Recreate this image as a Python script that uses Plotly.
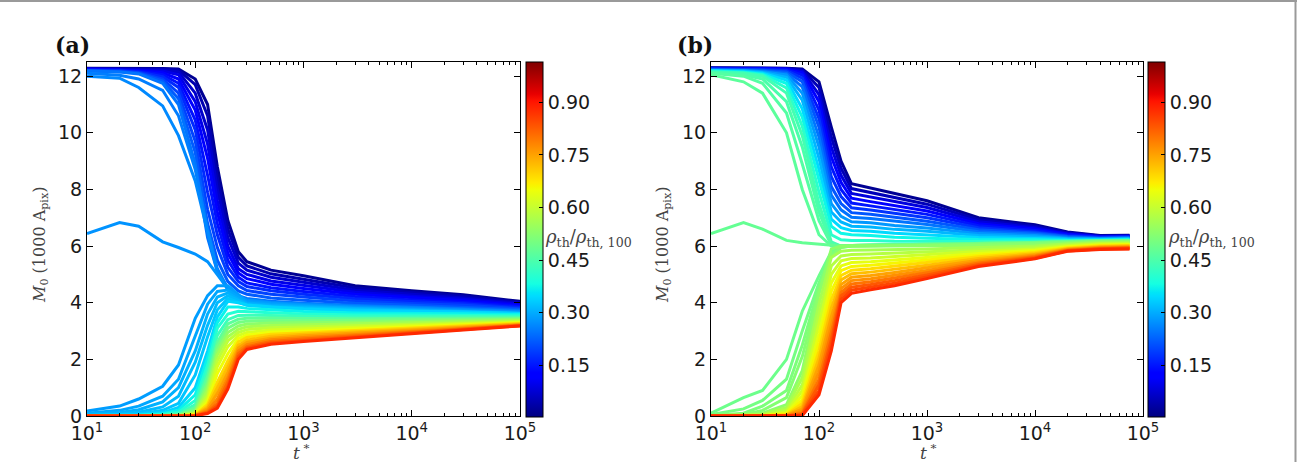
import numpy as np
import plotly.graph_objects as go

W, H = 1297, 462

# ---------------- data : panel (a) ----------------
T_A = [10, 20, 30, 50, 70, 100, 130, 160, 200, 250, 300, 500, 1000, 3000, 10000, 30000, 100000]

RHO_A_UPPER = [0.02, 0.045, 0.07, 0.095, 0.12, 0.145, 0.17, 0.195, 0.22, 0.245]
# one row per time in T_A, one value per line in RHO_A_UPPER
A_UPPER = [
    [12.28, 12.27, 12.26, 12.25, 12.24, 12.22, 12.21, 12.20, 12.19, 12.18],
    [12.28, 12.27, 12.25, 12.24, 12.22, 12.21, 12.19, 12.18, 12.16, 12.15],
    [12.28, 12.26, 12.24, 12.21, 12.19, 12.17, 12.15, 12.12, 12.10, 12.08],
    [12.27, 12.25, 12.22, 12.18, 12.12, 12.05, 11.98, 11.90, 11.83, 11.75],
    [12.25, 12.22, 12.15, 12.05, 11.90, 11.75, 11.60, 11.40, 11.20, 11.00],
    [11.90, 11.70, 11.40, 11.10, 10.80, 10.45, 10.10, 9.70, 9.30, 8.90],
    [11.00, 10.60, 10.10, 9.60, 9.10, 8.50, 7.90, 7.30, 6.80, 6.30],
    [8.80, 8.40, 8.00, 7.60, 7.20, 6.80, 6.40, 5.95, 5.50, 5.10],
    [6.90, 6.60, 6.30, 6.00, 5.75, 5.50, 5.25, 5.00, 4.75, 4.50],
    [5.80, 5.60, 5.40, 5.20, 5.05, 4.90, 4.75, 4.60, 4.42, 4.25],
    [5.45, 5.30, 5.15, 5.00, 4.85, 4.70, 4.57, 4.43, 4.30, 4.15],
    [5.15, 5.02, 4.90, 4.77, 4.65, 4.53, 4.42, 4.30, 4.17, 4.05],
    [4.95, 4.83, 4.72, 4.61, 4.50, 4.40, 4.30, 4.20, 4.09, 3.98],
    [4.60, 4.52, 4.44, 4.37, 4.30, 4.22, 4.14, 4.06, 3.98, 3.90],
    [4.42, 4.36, 4.30, 4.23, 4.17, 4.10, 4.04, 3.97, 3.91, 3.85],
    [4.28, 4.23, 4.17, 4.12, 4.07, 4.01, 3.96, 3.91, 3.85, 3.80],
    [4.05, 4.01, 3.98, 3.94, 3.90, 3.87, 3.83, 3.79, 3.76, 3.72],
]

# isolated (early-departing) curves of panel (a)
RHO_A_SINGLE = [0.255, 0.265, 0.275, 0.285, 0.295, 0.305, 0.315, 0.325]
A_SINGLE = [
    [12.10, 12.03, 11.90, 11.50, 10.60, 8.70, 6.60, 5.20, 4.50, 4.20, 4.10, 4.02, 3.96, 3.88, 3.83, 3.78, 3.70],
    [12.00, 11.93, 11.60, 10.95, 9.90, 8.30, 6.50, 5.10, 4.45, 4.18, 4.08, 4.00, 3.94, 3.86, 3.81, 3.76, 3.68],
    [6.44, 6.83, 6.70, 6.15, 5.95, 5.72, 5.45, 5.00, 4.50, 4.22, 4.10, 4.00, 3.93, 3.85, 3.80, 3.75, 3.68],
    [0.18, 0.35, 0.60, 1.05, 1.80, 3.45, 4.25, 4.60, 4.60, 4.30, 4.05, 3.97, 3.90, 3.82, 3.77, 3.72, 3.65],
    [0.10, 0.20, 0.35, 0.70, 1.30, 2.80, 3.95, 4.40, 4.45, 4.20, 4.00, 3.93, 3.87, 3.80, 3.75, 3.70, 3.64],
    [0.06, 0.12, 0.22, 0.50, 1.00, 2.30, 3.60, 4.20, 4.35, 4.12, 3.97, 3.90, 3.85, 3.78, 3.73, 3.69, 3.63],
    [0.03, 0.07, 0.13, 0.32, 0.70, 1.90, 3.20, 4.00, 4.25, 4.07, 3.94, 3.87, 3.83, 3.76, 3.72, 3.68, 3.62],
    [0.02, 0.04, 0.07, 0.20, 0.45, 1.45, 2.80, 3.75, 4.15, 4.02, 3.91, 3.84, 3.80, 3.74, 3.71, 3.66, 3.61],
]

RHO_A_LOWER = [0.34, 0.37, 0.40, 0.43, 0.47, 0.50, 0.53, 0.56, 0.59, 0.62, 0.65, 0.69, 0.72, 0.75, 0.78, 0.81, 0.84, 0.88]
A_LOWER = [
    [0.02, 0.01, 0, 0, 0, 0, 0, 0, 0, 0, 0, 0, 0, 0, 0, 0, 0, 0],
    [0.03, 0.02, 0.01, 0, 0, 0, 0, 0, 0, 0, 0, 0, 0, 0, 0, 0, 0, 0],
    [0.05, 0.03, 0.02, 0.01, 0, 0, 0, 0, 0, 0, 0, 0, 0, 0, 0, 0, 0, 0],
    [0.12, 0.08, 0.05, 0.03, 0.02, 0.01, 0, 0, 0, 0, 0, 0, 0, 0, 0, 0, 0, 0],
    [0.30, 0.20, 0.13, 0.08, 0.05, 0.03, 0.02, 0.01, 0, 0, 0, 0, 0, 0, 0, 0, 0, 0],
    [1.00, 0.75, 0.55, 0.40, 0.30, 0.22, 0.16, 0.12, 0.09, 0.07, 0.05, 0.04, 0.03, 0.02, 0.02, 0.01, 0.01, 0.01],
    [2.30, 2.05, 1.80, 1.60, 1.40, 1.20, 1.05, 0.90, 0.75, 0.62, 0.50, 0.40, 0.32, 0.25, 0.19, 0.14, 0.11, 0.09],
    [3.50, 3.30, 3.10, 2.85, 2.60, 2.45, 2.30, 2.15, 1.95, 1.75, 1.50, 1.20, 1.00, 0.80, 0.60, 0.45, 0.35, 0.28],
    [4.05, 3.85, 3.60, 3.40, 3.25, 3.10, 2.95, 2.80, 2.65, 2.45, 2.20, 1.95, 1.75, 1.55, 1.35, 1.20, 1.05, 0.95],
    [4.00, 3.85, 3.70, 3.55, 3.42, 3.30, 3.18, 3.06, 2.95, 2.84, 2.73, 2.62, 2.50, 2.40, 2.30, 2.20, 2.10, 2.00],
    [3.92, 3.80, 3.68, 3.56, 3.45, 3.35, 3.25, 3.15, 3.05, 2.95, 2.86, 2.77, 2.68, 2.60, 2.52, 2.45, 2.40, 2.35],
    [3.85, 3.75, 3.65, 3.55, 3.46, 3.37, 3.28, 3.20, 3.12, 3.04, 2.96, 2.89, 2.82, 2.75, 2.69, 2.63, 2.58, 2.53],
    [3.78, 3.69, 3.60, 3.52, 3.44, 3.36, 3.29, 3.22, 3.15, 3.08, 3.01, 2.95, 2.89, 2.83, 2.77, 2.72, 2.67, 2.63],
    [3.72, 3.64, 3.57, 3.50, 3.43, 3.37, 3.31, 3.25, 3.19, 3.13, 3.07, 3.02, 2.97, 2.92, 2.88, 2.84, 2.80, 2.77],
    [3.70, 3.63, 3.57, 3.51, 3.45, 3.40, 3.35, 3.30, 3.25, 3.20, 3.15, 3.11, 3.07, 3.03, 3.00, 2.97, 2.94, 2.92],
    [3.67, 3.61, 3.56, 3.51, 3.46, 3.42, 3.38, 3.34, 3.30, 3.26, 3.22, 3.19, 3.16, 3.13, 3.10, 3.08, 3.06, 3.04],
    [3.62, 3.58, 3.54, 3.50, 3.46, 3.43, 3.40, 3.37, 3.34, 3.31, 3.29, 3.27, 3.25, 3.23, 3.21, 3.20, 3.19, 3.18],
]

# ---------------- data : panel (b) ----------------
T_B = [10, 20, 30, 50, 70, 100, 130, 160, 200, 300, 500, 1000, 3000, 10000, 20000, 40000, 75000]

RHO_B_UPPER = [0.02, 0.052, 0.085, 0.117, 0.15, 0.18, 0.215, 0.245, 0.28, 0.31, 0.345, 0.375, 0.41, 0.44]
B_UPPER = [
    [12.30, 12.29, 12.28, 12.27, 12.26, 12.25, 12.24, 12.22, 12.21, 12.20, 12.19, 12.18, 12.16, 12.15],
    [12.30, 12.29, 12.28, 12.27, 12.26, 12.24, 12.23, 12.21, 12.20, 12.18, 12.16, 12.14, 12.12, 12.10],
    [12.30, 12.29, 12.28, 12.27, 12.25, 12.23, 12.21, 12.18, 12.16, 12.13, 12.10, 12.07, 12.04, 12.00],
    [12.28, 12.27, 12.26, 12.24, 12.22, 12.19, 12.15, 12.10, 12.04, 11.96, 11.86, 11.74, 11.58, 11.40],
    [12.25, 12.22, 12.18, 12.12, 12.04, 11.93, 11.80, 11.62, 11.40, 11.15, 10.85, 10.55, 10.23, 9.90],
    [11.80, 11.60, 11.35, 11.10, 10.80, 10.50, 10.20, 9.85, 9.50, 9.10, 8.70, 8.30, 7.90, 7.50],
    [10.20, 9.85, 9.50, 9.15, 8.80, 8.45, 8.10, 7.80, 7.50, 7.20, 6.95, 6.70, 6.40, 6.15],
    [9.00, 8.75, 8.50, 8.25, 8.00, 7.75, 7.50, 7.28, 7.05, 6.85, 6.65, 6.45, 6.22, 6.00],
    [8.20, 8.03, 7.86, 7.69, 7.52, 7.35, 7.18, 7.02, 6.86, 6.70, 6.55, 6.40, 6.20, 6.02],
    [8.05, 7.89, 7.73, 7.57, 7.42, 7.27, 7.12, 6.97, 6.82, 6.67, 6.52, 6.37, 6.20, 6.02],
    [7.85, 7.71, 7.57, 7.43, 7.29, 7.15, 7.01, 6.87, 6.73, 6.59, 6.45, 6.31, 6.17, 6.03],
    [7.60, 7.48, 7.36, 7.24, 7.12, 7.00, 6.88, 6.76, 6.64, 6.52, 6.40, 6.28, 6.16, 6.05],
    [7.00, 6.93, 6.86, 6.79, 6.72, 6.65, 6.58, 6.51, 6.44, 6.37, 6.30, 6.23, 6.16, 6.08],
    [6.75, 6.70, 6.65, 6.60, 6.55, 6.50, 6.46, 6.42, 6.37, 6.32, 6.27, 6.22, 6.17, 6.12],
    [6.50, 6.47, 6.44, 6.42, 6.39, 6.36, 6.34, 6.31, 6.28, 6.26, 6.23, 6.20, 6.18, 6.15],
    [6.37, 6.36, 6.34, 6.33, 6.31, 6.30, 6.28, 6.27, 6.25, 6.24, 6.22, 6.21, 6.19, 6.18],
    [6.38, 6.37, 6.36, 6.34, 6.33, 6.32, 6.30, 6.29, 6.27, 6.26, 6.24, 6.23, 6.21, 6.20],
]

RHO_B_SINGLE = [0.45, 0.46, 0.47, 0.48, 0.49, 0.50, 0.51, 0.52]
B_SINGLE = [
    [12.12, 12.05, 11.90, 11.10, 9.50, 7.20, 6.10, 6.00, 6.02, 6.03, 6.04, 6.06, 6.09, 6.13, 6.16, 6.19, 6.20],
    [12.10, 12.00, 11.75, 10.70, 8.90, 6.90, 6.05, 6.00, 6.02, 6.03, 6.04, 6.06, 6.09, 6.13, 6.16, 6.19, 6.20],
    [12.05, 11.80, 11.40, 10.00, 8.00, 6.40, 6.00, 6.00, 6.02, 6.03, 6.04, 6.06, 6.09, 6.13, 6.16, 6.19, 6.20],
    [6.44, 6.83, 6.60, 6.20, 6.12, 6.06, 6.02, 6.00, 6.02, 6.03, 6.04, 6.06, 6.08, 6.12, 6.15, 6.18, 6.19],
    [0.10, 0.65, 0.90, 2.00, 3.70, 4.95, 5.80, 5.98, 6.02, 6.02, 6.03, 6.04, 6.07, 6.10, 6.14, 6.17, 6.18],
    [0.05, 0.25, 0.55, 1.30, 3.00, 4.70, 5.75, 5.97, 6.01, 6.01, 6.02, 6.03, 6.06, 6.09, 6.13, 6.16, 6.17],
    [0.02, 0.10, 0.35, 0.90, 2.50, 4.55, 5.70, 5.96, 6.00, 6.01, 6.02, 6.03, 6.05, 6.08, 6.12, 6.16, 6.17],
    [0.01, 0.05, 0.20, 0.65, 2.10, 4.40, 5.65, 5.95, 6.00, 6.00, 6.01, 6.02, 6.04, 6.07, 6.11, 6.15, 6.16],
]

RHO_B_LOWER = [0.53, 0.56, 0.58, 0.61, 0.64, 0.66, 0.69, 0.72, 0.75, 0.77, 0.80, 0.83, 0.85, 0.88]
B_LOWER = [
    [0.02, 0.01, 0, 0, 0, 0, 0, 0, 0, 0, 0, 0, 0, 0],
    [0.05, 0.03, 0.02, 0.01, 0, 0, 0, 0, 0, 0, 0, 0, 0, 0],
    [0.10, 0.06, 0.04, 0.02, 0.01, 0, 0, 0, 0, 0, 0, 0, 0, 0],
    [0.40, 0.30, 0.22, 0.15, 0.10, 0.07, 0.05, 0.03, 0.02, 0.01, 0.01, 0, 0, 0],
    [1.60, 1.35, 1.10, 0.90, 0.72, 0.57, 0.44, 0.33, 0.24, 0.16, 0.10, 0.06, 0.03, 0.01],
    [4.30, 3.95, 3.60, 3.25, 2.90, 2.60, 2.30, 2.05, 1.80, 1.55, 1.30, 1.10, 0.90, 0.75],
    [5.90, 5.60, 5.30, 5.00, 4.70, 4.40, 4.10, 3.80, 3.50, 3.20, 2.95, 2.70, 2.50, 2.30],
    [6.00, 5.82, 5.65, 5.48, 5.30, 5.13, 4.96, 4.80, 4.64, 4.50, 4.37, 4.24, 4.12, 4.00],
    [6.00, 5.85, 5.70, 5.56, 5.42, 5.28, 5.15, 5.02, 4.90, 4.78, 4.66, 4.55, 4.44, 4.33],
    [6.00, 5.86, 5.72, 5.58, 5.45, 5.32, 5.20, 5.08, 4.96, 4.85, 4.74, 4.64, 4.55, 4.46],
    [6.00, 5.87, 5.75, 5.63, 5.51, 5.40, 5.29, 5.18, 5.07, 4.97, 4.87, 4.78, 4.69, 4.60],
    [6.00, 5.90, 5.80, 5.70, 5.60, 5.50, 5.41, 5.32, 5.23, 5.14, 5.06, 4.98, 4.91, 4.85],
    [6.02, 5.95, 5.88, 5.81, 5.74, 5.68, 5.62, 5.56, 5.50, 5.45, 5.40, 5.35, 5.31, 5.28],
    [6.05, 6.00, 5.95, 5.90, 5.85, 5.81, 5.77, 5.73, 5.69, 5.66, 5.63, 5.60, 5.57, 5.55],
    [6.10, 6.07, 6.04, 6.01, 5.98, 5.95, 5.93, 5.91, 5.89, 5.87, 5.85, 5.84, 5.83, 5.82],
    [6.14, 6.12, 6.09, 6.07, 6.04, 6.02, 6.00, 5.98, 5.96, 5.94, 5.92, 5.91, 5.90, 5.88],
    [6.15, 6.13, 6.10, 6.08, 6.06, 6.04, 6.02, 6.00, 5.98, 5.96, 5.94, 5.93, 5.91, 5.90],
]

# axis / colorbar labels
X_TICKS = [10, 100, 1000, 10000, 100000]
X_TICKTEXT = ["10<sup>1</sup>", "10<sup>2</sup>", "10<sup>3</sup>", "10<sup>4</sup>", "10<sup>5</sup>"]
Y_TICKS = [0, 2, 4, 6, 8, 10, 12]
CB_TICKS = [0.15, 0.30, 0.45, 0.60, 0.75, 0.90]
CB_MIN, CB_MAX = 0.003, 1.015

# ---------------- style helpers ----------------
_R = ([0, 0.35, 0.66, 0.89, 1.0], [0, 0, 1, 1, 0.5])
_G = ([0, 0.125, 0.375, 0.64, 0.91, 1.0], [0, 0, 1, 1, 0, 0])
_B = ([0, 0.11, 0.34, 0.65, 1.0], [0.5, 1, 1, 0, 0])


def jet(v):
    r = np.interp(v, *_R)
    g = np.interp(v, *_G)
    b = np.interp(v, *_B)
    return "rgb(%d,%d,%d)" % (round(r * 255), round(g * 255), round(b * 255))


JET_STOPS = [0, 0.11, 0.125, 0.34, 0.35, 0.375, 0.64, 0.65, 0.66, 0.89, 0.91, 1.0]
JET_SCALE = [[s, jet(s)] for s in JET_STOPS]


def norm(r):
    return (r - CB_MIN) / (CB_MAX - CB_MIN)


def px_x(p):
    return p / W


def px_y(p):
    return 1 - p / H


TICK_FONT = dict(family="DejaVu Sans", size=19, color="#1a1a1a")
SERIF = "DejaVu Serif"
LW = 3.0

fig = go.Figure()


def add_panel(T, groups, xa, ya, cb_x):
    lines = []
    for rhos, table, by_time in groups:
        for j, r in enumerate(rhos):
            if by_time:
                y = [row[j] for row in table]
            else:
                y = table[j]
            lines.append((r, y))
    lines.sort(key=lambda t: t[0])
    for k, (r, y) in enumerate(lines):
        tr = dict(x=T, y=y, mode="lines", line=dict(color=jet(norm(r)), width=LW),
                  xaxis=xa, yaxis=ya, showlegend=False, hoverinfo="skip")
        if k == 0:
            tr["mode"] = "lines+markers"
            tr["marker"] = dict(
                size=1, opacity=0, color=[r] * len(T), colorscale=JET_SCALE,
                cmin=CB_MIN, cmax=CB_MAX, showscale=True,
                colorbar=dict(
                    x=cb_x, xanchor="left", y=px_y(239.5), yanchor="middle",
                    len=355 / H, lenmode="fraction", thickness=17, thicknessmode="pixels",
                    outlinewidth=1, outlinecolor="#000", xpad=0, ypad=0,
                    tickvals=CB_TICKS, ticktext=["%.2f" % v for v in CB_TICKS],
                    ticks="inside", ticklen=4, tickcolor="#000", tickfont=TICK_FONT,
                ),
            )
        fig.add_trace(go.Scatter(**tr))


add_panel(T_A, [(RHO_A_UPPER, A_UPPER, True), (RHO_A_SINGLE, A_SINGLE, False),
                (RHO_A_LOWER, A_LOWER, True)], "x", "y", px_x(526))
add_panel(T_B, [(RHO_B_UPPER, B_UPPER, True), (RHO_B_SINGLE, B_SINGLE, False),
                (RHO_B_LOWER, B_LOWER, True)], "x2", "y2", px_x(1148))

minor_vals = [m * 10 ** d for d in range(1, 5) for m in range(2, 10)]

xcommon = dict(type="log", range=[1, 5], tickvals=X_TICKS, ticktext=X_TICKTEXT,
               ticks="inside", ticklen=6, tickcolor="#000", showline=True, linecolor="#000",
               linewidth=1, mirror="ticks", showgrid=False, zeroline=False, tickfont=TICK_FONT,
               automargin=False,
               minor=dict(tickvals=minor_vals, ticks="inside", ticklen=3, tickcolor="#000",
                          showgrid=False))
ycommon = dict(range=[0, 12.5], tickvals=Y_TICKS, ticks="inside", ticklen=6, tickcolor="#000",
               showline=True, linecolor="#000", linewidth=1, mirror="ticks", showgrid=False,
               zeroline=False, tickfont=TICK_FONT, automargin=False)

ydom = [px_y(416), px_y(62)]
fig.update_layout(
    width=W, height=H, autosize=False,
    margin=dict(l=0, r=0, t=0, b=0, autoexpand=False),
    paper_bgcolor="white", plot_bgcolor="white",
    xaxis=dict(domain=[px_x(87), px_x(520)], anchor="y", **xcommon),
    yaxis=dict(domain=ydom, anchor="x", **ycommon),
    xaxis2=dict(domain=[px_x(711), px_x(1143)], anchor="y2", **xcommon),
    yaxis2=dict(domain=ydom, anchor="x2", **ycommon),
)

ann = []
for lx, ylx, tx, cbl, pl in [(72, 40, 301, 543, "(a)"), (695, 663, 928, 1166, "(b)")]:
    ann.append(dict(xref="paper", yref="paper", x=px_x(lx), y=px_y(45), text="<b>%s</b>" % pl,
                    showarrow=False, font=dict(family=SERIF, size=22, color="#111"),
                    xanchor="center", yanchor="middle"))
    ann.append(dict(xref="paper", yref="paper", x=px_x(ylx), y=px_y(245),
                    text="<i>M</i><sub>0</sub> (1000 A<sub>pix</sub>)",
                    textangle=-90, showarrow=False, font=dict(family=SERIF, size=16, color="#444"),
                    xanchor="center", yanchor="middle"))
    ann.append(dict(xref="paper", yref="paper", x=px_x(tx), y=px_y(452), text="<i>t</i><sup> *</sup>",
                    showarrow=False, font=dict(family=SERIF, size=17, color="#444"),
                    xanchor="center", yanchor="middle"))
    ann.append(dict(xref="paper", yref="paper", x=px_x(cbl), y=px_y(238),
                    text="<i>ρ</i><sub>th</sub>/<i>ρ</i><sub>th, 100</sub>", showarrow=False,
                    font=dict(family=SERIF, size=18, color="#444"), xanchor="left", yanchor="middle"))
fig.update_layout(annotations=ann)

fig.update_layout(shapes=[
    dict(type="line", xref="paper", yref="paper", x0=0, x1=1, y0=px_y(1), y1=px_y(1),
         line=dict(color="#9a9a9a", width=2)),
    dict(type="line", xref="paper", yref="paper", x0=px_x(1295.5), x1=px_x(1295.5), y0=0, y1=1,
         line=dict(color="#9a9a9a", width=2)),
])

fig.write_html("out.html")
